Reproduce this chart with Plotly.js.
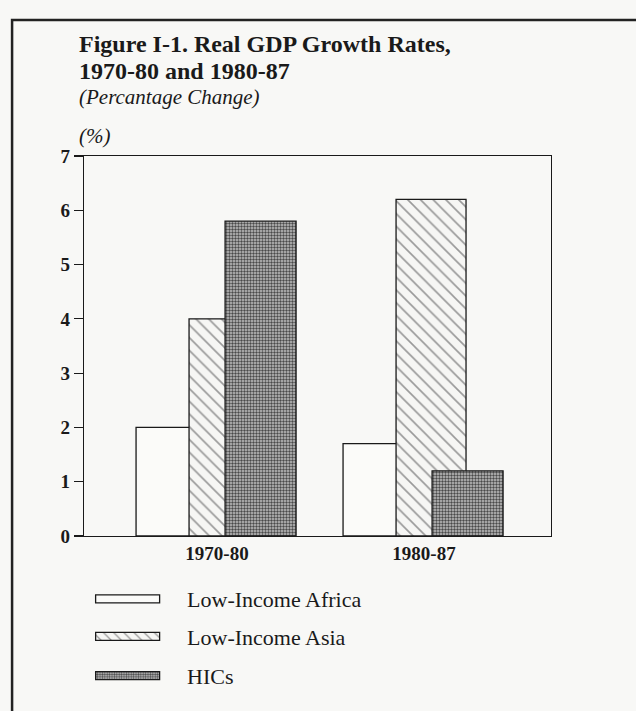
<!DOCTYPE html>
<html>
<head>
<meta charset="utf-8">
<script src="https://cdn.plot.ly/plotly-3.0.1.min.js"></script>
<style>html,body{margin:0;padding:0;background:#f8f8f6;}#chart{width:636px;height:711px;}</style>
</head>
<body>
<div id="chart"></div>
<script>
// ---- data ----
const categories = ['1970-80', '1980-87'];
const lowIncomeAfrica = [2.0, 1.7];
const lowIncomeAsia = [4.0, 6.2];
const hics = [5.8, 1.2];
const seriesNames = ['Low-Income Africa', 'Low-Income Asia', 'HICs'];
const yTicks = [0, 1, 2, 3, 4, 5, 6, 7];

const serif = 'Liberation Serif, Times New Roman, serif';
const ink = '#1a1a1a';
const bg = '#f8f8f6';

const lineStyle = {color: ink, width: 1.3};

const traces = [
  {
    type: 'bar', name: seriesNames[0], x: categories, y: lowIncomeAfrica,
    offset: -0.391, width: 0.34,
    marker: {color: '#fbfbf9', line: lineStyle},
    legend: 'legend'
  },
  {
    type: 'bar', name: seriesNames[1], x: categories, y: lowIncomeAsia,
    offset: -0.135, width: 0.338,
    marker: {color: '#f6f6f4', line: lineStyle,
      pattern: {shape: '\\', size: 9, solidity: 0.18, fgcolor: '#9a9a9a', bgcolor: '#f6f6f4'}},
    legend: 'legend2'
  },
  {
    type: 'bar', name: seriesNames[2], x: categories, y: hics,
    offset: 0.039, width: 0.343,
    marker: {color: '#9a9a9a', line: lineStyle,
      pattern: {shape: '.', size: 3, solidity: 0.5, fgcolor: '#4a4a4a', bgcolor: '#c2c2c2'}},
    legend: 'legend3'
  }
];

const legendBase = {
  x: -0.034, xanchor: 'left', yanchor: 'middle',
  bgcolor: 'rgba(0,0,0,0)', borderwidth: 0,
  itemwidth: 109,
  font: {family: serif, size: 22, color: ink}
};

const layout = {
  width: 636, height: 711,
  paper_bgcolor: bg, plot_bgcolor: bg,
  margin: {l: 84, r: 85, t: 156, b: 175},
  barmode: 'overlay',
  showlegend: true,
  legend: Object.assign({}, legendBase, {y: -0.166}),
  legend2: Object.assign({}, legendBase, {y: -0.2645}),
  legend3: Object.assign({}, legendBase, {y: -0.368}),
  xaxis: {
    type: 'category', categoryarray: categories,
    range: [-0.6425, 1.6135],
    showline: true, mirror: true, linecolor: ink, linewidth: 1.3,
    ticks: '', showgrid: false, zeroline: false,
    tickfont: {family: serif, size: 19, color: ink, weight: 700}
  },
  yaxis: {
    range: [0, 7], tickvals: yTicks, ticktext: yTicks.map(String),
    showline: true, mirror: true, linecolor: ink, linewidth: 1.3,
    ticks: 'outside', ticklen: 9, tickwidth: 1.2, tickcolor: ink,
    showgrid: false, zeroline: false,
    tickfont: {family: serif, size: 19, color: ink, weight: 700}
  },
  shapes: [
    {type: 'rect', xref: 'paper', yref: 'paper',
     x0: -0.154, x1: 2, y0: 1.358, y1: -1,
     line: {color: '#222', width: 2.5}, fillcolor: 'rgba(0,0,0,0)', layer: 'below'}
  ],
  annotations: [
    {text: 'Figure I-1. Real GDP Growth Rates,', xref: 'paper', yref: 'paper',
     x: -0.015, y: (536 - 44) / 380, xanchor: 'left', yanchor: 'middle', showarrow: false,
     font: {family: serif, size: 24, color: ink, weight: 700}},
    {text: '1970-80 and 1980-87', xref: 'paper', yref: 'paper',
     x: -0.015, y: (536 - 71) / 380, xanchor: 'left', yanchor: 'middle', showarrow: false,
     font: {family: serif, size: 24, color: ink, weight: 700}},
    {text: '(Percantage Change)', xref: 'paper', yref: 'paper',
     x: -0.015, y: (536 - 97) / 380, xanchor: 'left', yanchor: 'middle', showarrow: false,
     font: {family: serif, size: 21, color: ink, style: 'italic'}},
    {text: '(%)', xref: 'paper', yref: 'paper',
     x: -0.015, y: (536 - 136) / 380, xanchor: 'left', yanchor: 'middle', showarrow: false,
     font: {family: serif, size: 21, color: ink, style: 'italic'}}
  ]
};

Plotly.newPlot('chart', traces, layout, {displayModeBar: false, staticPlot: true}).then(function (gd) {
  // widen legend swatches to the long, flat boxes of the original
  gd.querySelectorAll('.legendpoints path').forEach(function (p) {
    p.setAttribute('d', 'M-32,4H32V-4H-32Z');
  });
});
</script>
</body>
</html>
